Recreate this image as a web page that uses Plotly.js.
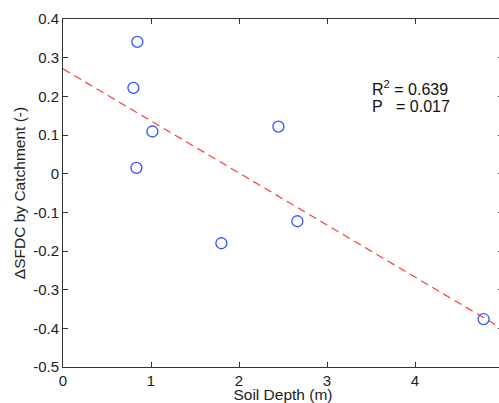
<!DOCTYPE html>
<html><head><meta charset="utf-8">
<script src="https://cdn.plot.ly/plotly-3.0.1.min.js"></script>
<style>html,body{margin:0;padding:0;overflow:hidden;background:#fff}</style>
</head><body><div id="chart"></div>
<script>
const soilDepth = [0.845, 0.80, 1.016, 0.834, 1.80, 2.448, 2.663, 4.78];
const deltaSFDC = [0.341, 0.222, 0.109, 0.015, -0.180, 0.1215, -0.123, -0.376];
const fitX = [0, 5];
const fitY = [0.271, -0.402];
const statsLines = ['R<sup>2</sup> = 0.639', 'P\u00a0\u00a0\u00a0= 0.017'];
const statsY = [0.221, 0.1725];
const xTicks = [0, 1, 2, 3, 4, 5];
const yTicks = [-0.5, -0.4, -0.3, -0.2, -0.1, 0, 0.1, 0.2, 0.3, 0.4];

const fam = 'Liberation Sans, Arial, sans-serif';
const tickFont = {family: fam, size: 15, color: '#222'};
const titleFont = {family: fam, size: 15.5, color: '#222'};
const traces = [
  {x: fitX, y: fitY, mode: 'lines', line: {color: '#ff3b3b', width: 1.2, dash: '8px,5px'}, hoverinfo: 'skip'},
  {x: soilDepth, y: deltaSFDC, mode: 'markers',
   marker: {symbol: 'circle-open', size: 11, color: '#3355ff', line: {width: 1.3, color: '#3355ff'}}}
];
const axisCommon = {showgrid: false, zeroline: false, showline: true, linecolor: '#333', linewidth: 1,
  mirror: 'ticks', ticks: 'inside', ticklen: 5, tickcolor: '#333', tickfont: tickFont};
const layout = {
  width: 510, height: 403,
  margin: {l: 63, r: 7, t: 19, b: 36},
  paper_bgcolor: '#fff', plot_bgcolor: '#fff',
  showlegend: false,
  font: tickFont,
  xaxis: Object.assign({}, axisCommon, {range: [0, 5], tickvals: xTicks, ticktext: xTicks.map(String),
    title: {text: 'Soil Depth (m)', font: titleFont, standoff: 2}}),
  yaxis: Object.assign({}, axisCommon, {range: [-0.5, 0.4], tickvals: yTicks, ticktext: yTicks.map(v => String(v)),
    title: {text: '\u0394SFDC by Catchment (-)', font: titleFont, standoff: 3}}),
  annotations: statsLines.map((t, i) => ({x: 3.49, y: statsY[i], xref: 'x', yref: 'y', xanchor: 'left',
    yanchor: 'middle', align: 'left', showarrow: false, text: t,
    font: {family: fam, size: 16, color: '#111'}}))
};
Plotly.newPlot('chart', traces, layout, {displayModeBar: false, staticPlot: true});
</script></body></html>
